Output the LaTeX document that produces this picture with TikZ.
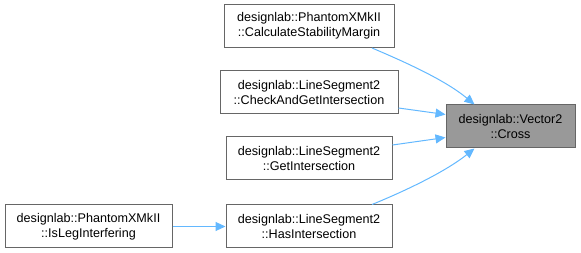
\documentclass[tikz,border=0pt]{standalone}
\usepackage{fontspec}
\setmainfont{Liberation Sans}
\usetikzlibrary{arrows.meta,calc}
\definecolor{edgeblue}{HTML}{63B8FF}
\definecolor{boxline}{HTML}{666666}
\definecolor{focusfill}{HTML}{999999}
\tikzset{
  fn/.style={draw=boxline, fill=white, line width=1pt, align=center,
    inner sep=0pt, minimum height=43pt,
    font=\fontsize{12.6}{15}\selectfont},
  focus/.style={fn, fill=focusfill},
  call/.style={draw=edgeblue, line width=1pt,
    -{Triangle[length=10pt,width=9pt]}},
}
\begin{document}
\begin{tikzpicture}[x=1pt,y=-1pt]
\useasboundingbox (0,0) rectangle (581,253);
\node[focus, minimum width=129pt] (cross) at (510.5,126.5) {designlab::Vector2\\::Cross};
\node[fn, minimum width=170pt] (calc) at (309,26) {designlab::PhantomXMkII\\::CalculateStabilityMargin};
\node[fn, minimum width=178pt] (check) at (309,92.5) {designlab::LineSegment2\\::CheckAndGetIntersection};
\node[fn, minimum width=166pt] (get) at (309,158.5) {designlab::LineSegment2\\::GetIntersection};
\node[fn, minimum width=166pt] (has) at (309,226.5) {designlab::LineSegment2\\::HasIntersection};
\node[fn, minimum width=167pt] (leg) at (88.5,226.5) {designlab::PhantomXMkII\\::IsLegInterfering};

\draw[call] ($(calc.south)+(63,0)$) .. controls (405,62) and (445,80) .. ($(cross.north)+(-36,0)$);
\draw[call] ($(check.east)+(0,15.5)$) -- ($(cross.west)+(0,-12)$);
\draw[call] ($(get.east)+(0,-13.5)$) -- ($(cross.west)+(0,11)$);
\draw[call] ($(has.north)+(63,0)$) .. controls (405,191) and (445,172) .. ($(cross.south)+(-36,0)$);
\draw[call] (leg) -- (has);
\end{tikzpicture}
\end{document}
